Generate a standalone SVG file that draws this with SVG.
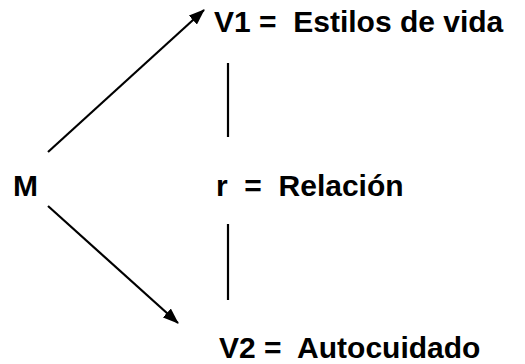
<svg xmlns="http://www.w3.org/2000/svg" width="525" height="364" viewBox="0 0 525 364">
<style>
.t{font-family:"Liberation Sans",Arial,sans-serif;font-weight:bold;font-size:30px;fill:#000;white-space:pre}
.c{stroke:#000;stroke-width:2.2;fill:none}
</style>
<defs>
<marker id="ah" markerWidth="16" markerHeight="12" refX="15" refY="6" orient="auto" markerUnits="userSpaceOnUse" viewBox="0 0 16 12">
<path d="M0,0 L16,6 L0,12 Z" fill="#000"/>
</marker>
</defs>
<rect width="525" height="364" fill="#fff"/>
<g id="connectors">
<line class="c" x1="48" y1="152" x2="204" y2="10" marker-end="url(#ah)"/>
<line class="c" x1="48" y1="206" x2="178" y2="323" marker-end="url(#ah)"/>
<line class="c" x1="228" y1="63" x2="228" y2="137"/>
<line class="c" x1="228" y1="224" x2="228" y2="300"/>
</g>
<g id="M"><text class="t" x="13" y="196">M</text></g>
<g id="V1"><text class="t" x="214" y="32">V1 =  Estilos de vida</text></g>
<g id="r"><text class="t" x="216" y="196">r  =  Relación</text></g>
<g id="V2"><text class="t" x="219" y="358">V2 =  Autocuidado</text></g>
</svg>
